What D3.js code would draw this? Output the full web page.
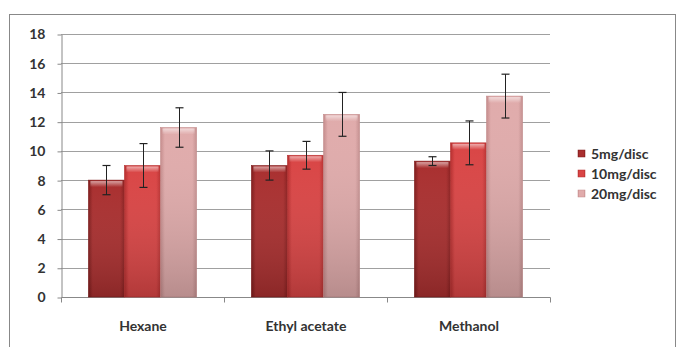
<!DOCTYPE html>
<html><head><meta charset="utf-8">
<script src="https://cdn.jsdelivr.net/npm/d3@7"></script>
<style>body{margin:0;background:#fff;}svg{display:block;}</style>
</head><body>
<script>
const categories = ["Hexane", "Ethyl acetate", "Methanol"];
const seriesNames = ["5mg/disc", "10mg/disc", "20mg/disc"];
const values5 = [8.0, 9.0, 9.3];
const values10 = [9.0, 9.7, 10.55];
const values20 = [11.6, 12.5, 13.75];
const err5 = [1.0, 1.0, 0.3];
const err10 = [1.5, 0.95, 1.5];
const err20 = [1.35, 1.5, 1.5];
const yTicks = [0, 2, 4, 6, 8, 10, 12, 14, 16, 18];
const colors = [
  ["#7e1b1b", "#a92f2f", "#8a2020"],
  ["#b52d2d", "#d94545", "#b83232"],
  ["#c48b8b", "#e0abab", "#c49090"]
];

(function () {
const W = 678, H = 347;
const FONT = "Lato, 'Open Sans', sans-serif";
const svg = d3.select("body").append("svg").attr("width", W).attr("height", H);
const defs = svg.append("defs");
colors.forEach((c, i) => {
  const g = defs.append("linearGradient").attr("id", "g" + i).attr("x1", 0).attr("x2", 1).attr("y1", 0).attr("y2", 0);
  g.append("stop").attr("offset", 0).attr("stop-color", c[0]);
  g.append("stop").attr("offset", 0.12).attr("stop-color", c[1]);
  g.append("stop").attr("offset", 0.88).attr("stop-color", c[1]);
  g.append("stop").attr("offset", 1).attr("stop-color", c[2]);
  const v = defs.append("linearGradient").attr("id", "v" + i).attr("x1", 0).attr("x2", 0).attr("y1", 0).attr("y2", 1);
  v.append("stop").attr("offset", 0).attr("stop-color", "#fff").attr("stop-opacity", 0.0);
  v.append("stop").attr("offset", 1).attr("stop-color", "#000").attr("stop-opacity", 0.18);
});
const hl = defs.append("linearGradient").attr("id", "hl").attr("x1", 0).attr("x2", 0).attr("y1", 0).attr("y2", 1);
hl.append("stop").attr("offset", 0).attr("stop-color", "#fff").attr("stop-opacity", 0.55);
hl.append("stop").attr("offset", 1).attr("stop-color", "#fff").attr("stop-opacity", 0);

// outer border
svg.append("rect").attr("x", 9.5).attr("y", 14.5).attr("width", 666).attr("height", 360)
  .attr("fill", "none").attr("stroke", "#888").attr("stroke-width", 1);

const pLeft = 61, pRight = 550, pTop = 34, pBottom = 297;
const x = d3.scaleBand().domain(categories).range([pLeft, pRight]).paddingInner(0).paddingOuter(0);
const y = d3.scaleLinear().domain([0, 18]).range([pBottom, pTop]);
const xs = d3.scaleBand().domain(seriesNames).range([0, x.bandwidth()]).paddingOuter(0.76).paddingInner(0);

// gridlines
svg.append("g").selectAll("line").data(yTicks.filter(d => d > 0)).join("line")
  .attr("x1", pLeft).attr("x2", pRight).attr("y1", d => Math.round(y(d)) + 0.5).attr("y2", d => Math.round(y(d)) + 0.5)
  .attr("stroke", "#a0a0a0").attr("stroke-width", 1);

// y axis
const yAxis = d3.axisLeft(y).tickValues(yTicks).tickSize(4).tickSizeOuter(0);
const ya = svg.append("g").attr("transform", `translate(${pLeft + 0.5},0.5)`).call(yAxis);
ya.select(".domain").attr("stroke", "#888");
ya.selectAll(".tick line").attr("stroke", "#888");
ya.selectAll(".tick text").attr("x", -16).attr("font-family", FONT)
  .attr("font-weight", "bold").attr("font-size", 14).attr("fill", "#333");

// x axis
const xa = svg.append("g").attr("transform", `translate(0.5,${pBottom + 0.5})`);
xa.append("line").attr("x1", pLeft).attr("x2", pRight).attr("stroke", "#888");
const bounds = [pLeft, ...categories.map(c => x(c) + x.bandwidth())];
xa.selectAll(".tk").data(bounds).join("line").attr("class", "tk")
  .attr("x1", d => d).attr("x2", d => d).attr("y1", 0).attr("y2", 5).attr("stroke", "#888");
xa.selectAll("text").data(categories).join("text")
  .attr("x", d => x(d) + x.bandwidth() / 2).attr("y", 33)
  .attr("text-anchor", "middle").attr("font-family", FONT)
  .attr("font-weight", "bold").attr("font-size", 14).attr("fill", "#333").text(d => d);

// bars
const allVals = [values5, values10, values20];
const allErr = [err5, err10, err20];
seriesNames.forEach((s, si) => {
  const g = svg.append("g");
  categories.forEach((c, ci) => {
    const bx = x(c) + xs(s), bw = xs.bandwidth();
    const v = allVals[si][ci];
    const by = y(v), bh = y(0) - y(v);
    g.append("rect").attr("x", bx).attr("y", by).attr("width", bw).attr("height", bh)
      .attr("fill", `url(#g${si})`).attr("stroke", colors[si][0]).attr("stroke-width", 0.6);
    g.append("rect").attr("x", bx).attr("y", by).attr("width", bw).attr("height", bh)
      .attr("fill", `url(#v${si})`);
    g.append("rect").attr("x", bx + 2).attr("y", by + 1).attr("width", bw - 4).attr("height", 6)
      .attr("fill", "url(#hl)");
    const e = allErr[si][ci];
    const cx = Math.round(bx + bw / 2) + 0.5;
    const ey1 = y(v + e), ey2 = y(v - e);
    g.append("line").attr("x1", cx).attr("x2", cx).attr("y1", ey1).attr("y2", ey2).attr("stroke", "#222").attr("stroke-width", 1);
    [ey1, ey2].forEach(yy => g.append("line").attr("x1", cx - 4).attr("x2", cx + 4).attr("y1", yy).attr("y2", yy).attr("stroke", "#222").attr("stroke-width", 1.2));
  });
});

// legend
const leg = svg.append("g");
seriesNames.forEach((s, i) => {
  const ly = 154 + i * 20;
  leg.append("rect").attr("x", 578).attr("y", ly - 4).attr("width", 7).attr("height", 7)
    .attr("fill", `url(#g${i})`).attr("stroke", colors[i][0]).attr("stroke-width", 0.5);
  leg.append("text").attr("x", 591).attr("y", ly).attr("dy", "0.35em")
    .attr("font-family", FONT).attr("font-weight", "bold").attr("font-size", 14)
    .attr("fill", "#333").text(s);
});
})();
</script>
</body></html>
